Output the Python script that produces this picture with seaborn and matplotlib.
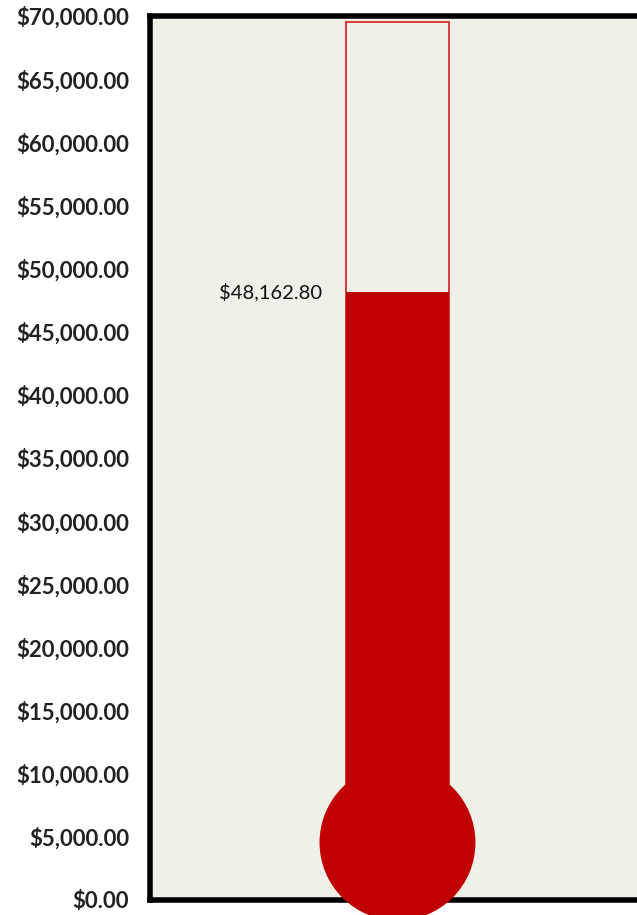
import matplotlib
matplotlib.use("Agg")
import matplotlib.pyplot as plt
from matplotlib.patches import Ellipse
from matplotlib.ticker import FuncFormatter
import pandas as pd
import seaborn as sns

sns.set_theme(style="white")
plt.rcParams['font.family'] = ['Lato', 'DejaVu Sans']

category = ["Fundraising"]
goal = [69500.0]
raised = [48162.80]
y_ticks = list(range(0, 70001, 5000))

red = "#C00000"
bg = "#EFF1E9"

df = pd.DataFrame({"category": category, "goal": goal, "raised": raised})

fig = plt.figure(figsize=(6.37, 9.15), dpi=100)
ax = fig.add_axes([150 / 637, 15 / 915, 495 / 637, 884 / 915])
ax.set_facecolor(bg)

# outline of the thermometer tube (goal)
sns.barplot(data=df, x="category", y="goal", ax=ax, width=0.208,
            facecolor="none", edgecolor="#D42A2A", linewidth=1.3)
# filled mercury (raised)
sns.barplot(data=df, x="category", y="raised", ax=ax, width=0.208,
            color=red, saturation=1, linewidth=0)

ax.set_xlim(-0.5, 0.5)
ax.set_ylim(0, 70000)

# bulb at the bottom
bulb = Ellipse((0, 4550), width=0.315, height=12350, facecolor=red,
               edgecolor="none", clip_on=False, zorder=5)
ax.add_patch(bulb)

ax.text(-0.152, raised[0], "${:,.2f}".format(raised[0]), ha="right",
        va="center", fontsize=14.5, color="#111111")

ax.set_yticks(y_ticks)
ax.yaxis.set_major_formatter(FuncFormatter(lambda v, p: "${:,.2f}".format(v)))
ax.tick_params(axis="y", length=0, pad=15, labelsize=16, labelcolor="#222222")
for lab in ax.get_yticklabels():
    lab.set_fontweight("bold")
ax.set_xticks([])
ax.set_xlabel("")
ax.set_ylabel("")

for side in ["left", "bottom", "top", "right"]:
    ax.spines[side].set_visible(True)
    ax.spines[side].set_color("black")
    ax.spines[side].set_linewidth(4)

fig.savefig("out.png", dpi=100, facecolor="white")
